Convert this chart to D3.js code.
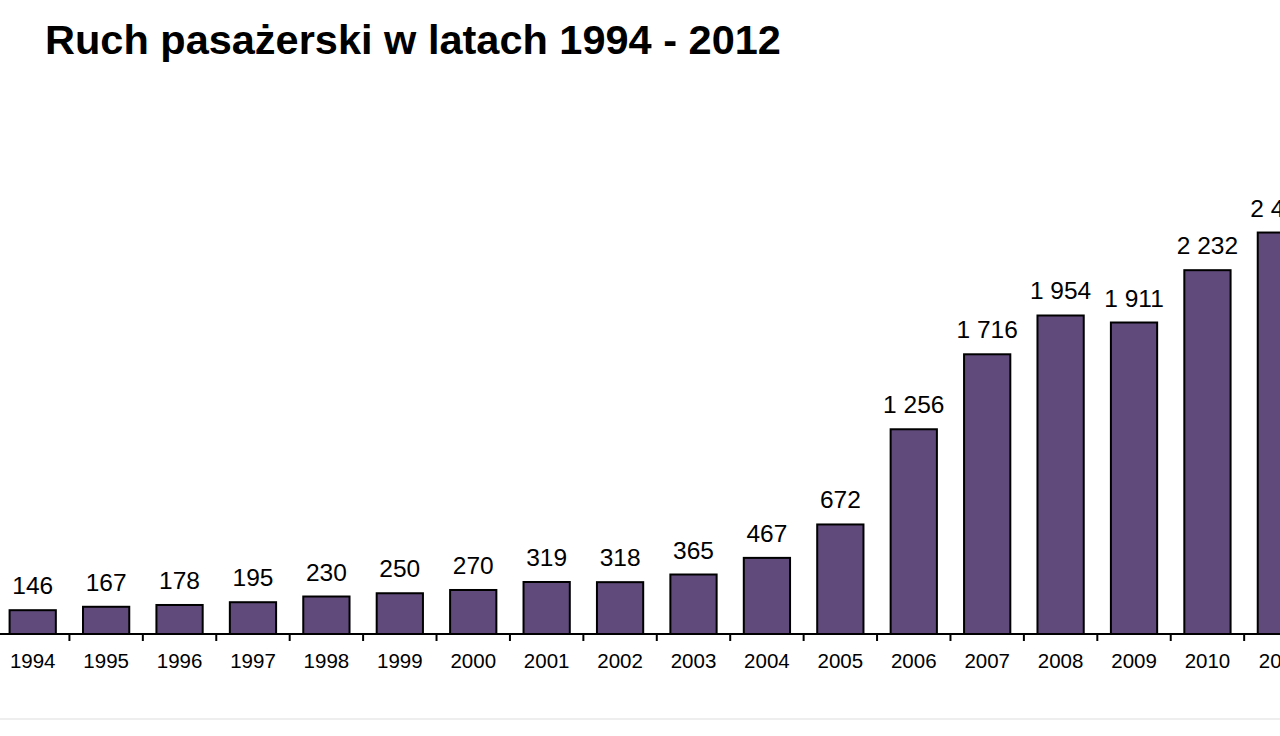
<!DOCTYPE html>
<html>
<head>
<meta charset="utf-8">
<title>Ruch pasażerski</title>
<script src="https://d3js.org/d3.v7.min.js"></script>
<style>
  body { margin: 0; background: #fff; }
  svg { display: block; }
  .bar { fill: #604a7b; stroke: #000; stroke-width: 2; }
  .axis--x path, .axis--x line { stroke: #000; stroke-width: 2; }
  .title { font-family: "Liberation Sans", Arial, sans-serif; font-weight: bold; font-size: 41.5px; }
  .val { font-family: "Liberation Sans", Arial, sans-serif; font-size: 24.5px; }
  .axis--x text { font-family: "Liberation Sans", Arial, sans-serif; font-size: 20.5px; fill: #000; }
</style>
</head>
<body>
<svg width="1280" height="736"></svg>
<script>
// passenger traffic, thousands
var years = ["1994","1995","1996","1997","1998","1999","2000","2001","2002","2003",
             "2004","2005","2006","2007","2008","2009","2010","2011","2012"];
var passengers = [146, 167, 178, 195, 230, 250, 270, 319, 318, 365,
                  467, 672, 1256, 1716, 1954, 1911, 2232, 2463, 2906];
var title = "Ruch pasażerski w latach 1994 - 2012";

var svg = d3.select("svg"),
    baseY = 634;

var x = d3.scaleBand().domain(years).range([-4, 1391]).paddingInner(0.37).paddingOuter(0.185),
    y = d3.scaleLinear().domain([0, 3000]).range([baseY, baseY - 489]);

var fmt = function(d) { return d3.format(",")(d).replace(/,/g, " "); };

svg.append("text")
    .attr("class", "title")
    .attr("x", 45)
    .attr("y", 54)
    .text(title);

svg.selectAll(".bar")
  .data(passengers)
  .enter().append("rect")
    .attr("class", "bar")
    .attr("x", function(d, i) { return x(years[i]); })
    .attr("y", function(d) { return y(d); })
    .attr("width", x.bandwidth())
    .attr("height", function(d) { return baseY - y(d); });

svg.selectAll(".val")
  .data(passengers)
  .enter().append("text")
    .attr("class", "val")
    .attr("text-anchor", "middle")
    .attr("x", function(d, i) { return x(years[i]) + x.bandwidth() / 2; })
    .attr("y", function(d) { return y(d) - 16; })
    .text(fmt);

// axis: line + ticks between categories
var gx = svg.append("g")
    .attr("class", "axis axis--x")
    .attr("transform", "translate(0," + baseY + ")")
    .call(d3.axisBottom(x).tickSize(0).tickPadding(24));
gx.select(".domain").attr("d", "M0,0H1280");
gx.selectAll(".tick text").attr("dy", "0.5em");

gx.selectAll(".sep")
  .data(years.slice(1))
  .enter().append("line")
    .attr("class", "sep")
    .attr("x1", function(d) { return x(d) - x.step() * x.paddingInner() / 2; })
    .attr("x2", function(d) { return x(d) - x.step() * x.paddingInner() / 2; })
    .attr("y1", 0)
    .attr("y2", 7);

svg.append("line")
    .attr("x1", 0).attr("x2", 1280)
    .attr("y1", 719).attr("y2", 719)
    .attr("stroke", "#ddd")
    .attr("stroke-width", 1);
</script>
</body>
</html>
